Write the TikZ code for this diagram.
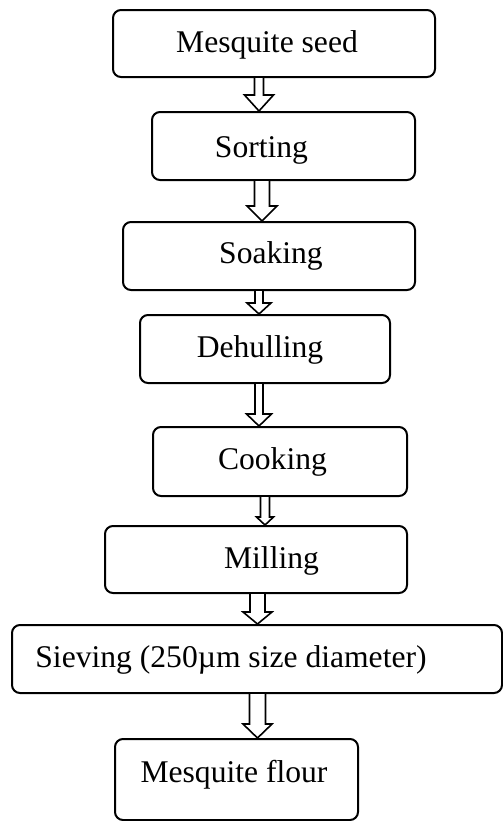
\documentclass[tikz,border=0pt]{standalone}
\usepackage{fontspec}
\setmainfont{Liberation Serif}
\usetikzlibrary{calc}

\tikzset{
  stepbox/.style={draw, rounded corners=4pt, line width=1pt, inner sep=0pt},
  steptext/.style={anchor=base, inner sep=0pt, font=\fontsize{15.8}{19}\selectfont},
  hollowarrow/.style={draw, line width=0.8pt, fill=white, line join=miter}
}
% #1 from, #2 to, #3 x, #4 half shaft, #5 half head, #6 head length
\newcommand{\flowarrow}[6]{%
  \path (#3,0 |- #1.south) coordinate (fa-top) (#3,0 |- #2.north) coordinate (fa-tip);
  \draw[hollowarrow] ($(fa-top)+(-#4,0)$) -- ($(fa-tip)+(-#4,-#6)$) -- ($(fa-tip)+(-#5,-#6)$)
    -- (fa-tip) -- ($(fa-tip)+(#5,-#6)$) -- ($(fa-tip)+(#4,-#6)$) -- ($(fa-top)+(#4,0)$);
}

\begin{document}
\begin{tikzpicture}[x=0.5pt,y=-0.5pt]
  \useasboundingbox (0,0) rectangle (503,821);
  \node[stepbox,minimum width=161pt,minimum height=33.5pt] (seed) at (274,43.5) {};
  \node[stepbox,minimum width=131.5pt,minimum height=34pt] (sort) at (283.5,146) {};
  \node[stepbox,minimum width=146pt,minimum height=34pt] (soak) at (269,256) {};
  \node[stepbox,minimum width=125pt,minimum height=34pt] (dehull) at (265,349) {};
  \node[stepbox,minimum width=127pt,minimum height=34.5pt] (cook) at (280,461.5) {};
  \node[stepbox,minimum width=151pt,minimum height=33.5pt] (mill) at (256,559.5) {};
  \node[stepbox,minimum width=245pt,minimum height=34pt] (sieve) at (257,659) {};
  \node[stepbox,minimum width=121.5pt,minimum height=40.5pt] (flour) at (236.5,779.5) {};

  \node[steptext] (seedtext) at (267,52) {Mesquite seed};
  \node[steptext] (sorttext) at (261.5,157) {Sorting};
  \node[steptext] (soaktext) at (271,263) {Soaking};
  \node[steptext] (dehulltext) at (260,357) {Dehulling};
  \node[steptext] (cooktext) at (272.5,469) {Cooking};
  \node[steptext] (milltext) at (271.5,568) {Milling};
  \node[steptext] (sievetext) at (231,667) {Sieving (250µm size diameter)};
  \node[steptext] (flourtext) at (234,782) {Mesquite flour};

  \flowarrow{seed}{sort}{259}{4.5}{14.5}{16}
  \flowarrow{sort}{soak}{262}{7.5}{15}{15}
  \flowarrow{soak}{dehull}{259}{4}{12}{11}
  \flowarrow{dehull}{cook}{259}{4}{12.5}{12}
  \flowarrow{cook}{mill}{265}{4.5}{8.5}{8}
  \flowarrow{mill}{sieve}{257.5}{7.5}{14.5}{12}
  \flowarrow{sieve}{flour}{257.5}{8}{14.5}{14}
\end{tikzpicture}
\end{document}
